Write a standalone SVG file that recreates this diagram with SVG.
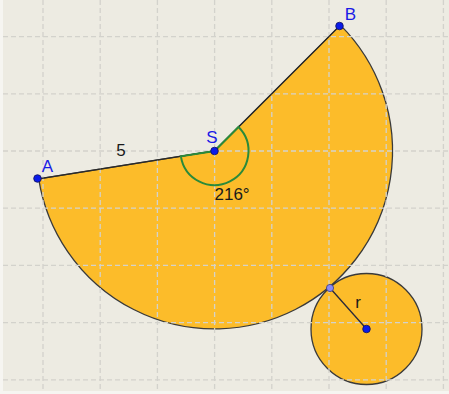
<svg xmlns="http://www.w3.org/2000/svg" width="449" height="394" viewBox="0 0 449 394">
<style>
.grid{stroke:#d3d2cc;stroke-width:1.3;stroke-dasharray:5 3;fill:none}
.fill{fill:#fcbc2a;stroke:#3a3a3a;stroke-width:1.3}
.pt{fill:#0a1be8;stroke:#10105a;stroke-width:0.8}
.lbl{font-family:"Liberation Sans",Arial,sans-serif;font-size:17px;fill:#1a1ae6}
.num{font-family:"Liberation Sans",Arial,sans-serif;font-size:17px;fill:#1a1a1a}
</style>
<rect x="0" y="0" width="449" height="394" fill="#f6f5f1"/>
<rect x="3" y="0" width="446" height="391" fill="#edebe2"/>
<g id="shapes">
<path id="sector" class="fill" d="M214.5 151 L340.4 25.1 A178 178 0 1 1 38.7 178.8 Z"/>
<circle id="circle" class="fill" cx="366.5" cy="329" r="55.5"/>
</g>
<g id="grid">
<path class="grid" d="M43 0V391M100.2 0V391M157.4 0V391M214.6 0V391M271.8 0V391M329 0V391M386.2 0V391M443.4 0V391"/>
<path class="grid" d="M3 36.6H449M3 93.8H449M3 151H449M3 208.2H449M3 265.4H449M3 322.6H449M3 379.8H449"/>
</g>
<g id="connectors">
<path d="M38.7 178.8 L214.5 151 L340.4 25.1" fill="none" stroke="#2a2a2a" stroke-width="1.3"/>
<path id="angle" d="M214.5 151 L238.5 127 A34 34 0 1 1 180.9 156.3 Z" fill="none" stroke="#2a8a3a" stroke-width="2"/>
<line x1="330" y1="288" x2="366.5" y2="329" stroke="#2a2a3a" stroke-width="1.3"/>
</g>
<g id="S"><circle class="pt" cx="214.5" cy="151" r="3.8"/><text class="lbl" x="212" y="143" text-anchor="middle">S</text></g>
<g id="A"><circle class="pt" cx="37.5" cy="178.5" r="3.8"/><text class="lbl" x="47.5" y="172" text-anchor="middle">A</text></g>
<g id="B"><circle class="pt" cx="339.5" cy="26" r="3.8"/><text class="lbl" x="350.5" y="19.5" text-anchor="middle">B</text></g>
<g id="T"><circle cx="330" cy="288" r="3.6" fill="#8a8af5" stroke="#3a3a7a" stroke-width="0.8"/></g>
<g id="O"><circle class="pt" cx="366.5" cy="329" r="3.8"/></g>
<g id="labels">
<text class="num" x="121" y="156" text-anchor="middle">5</text>
<text class="num" x="214.5" y="199.5">216°</text>
<text class="num" x="358" y="308" text-anchor="middle">r</text>
</g>
</svg>
